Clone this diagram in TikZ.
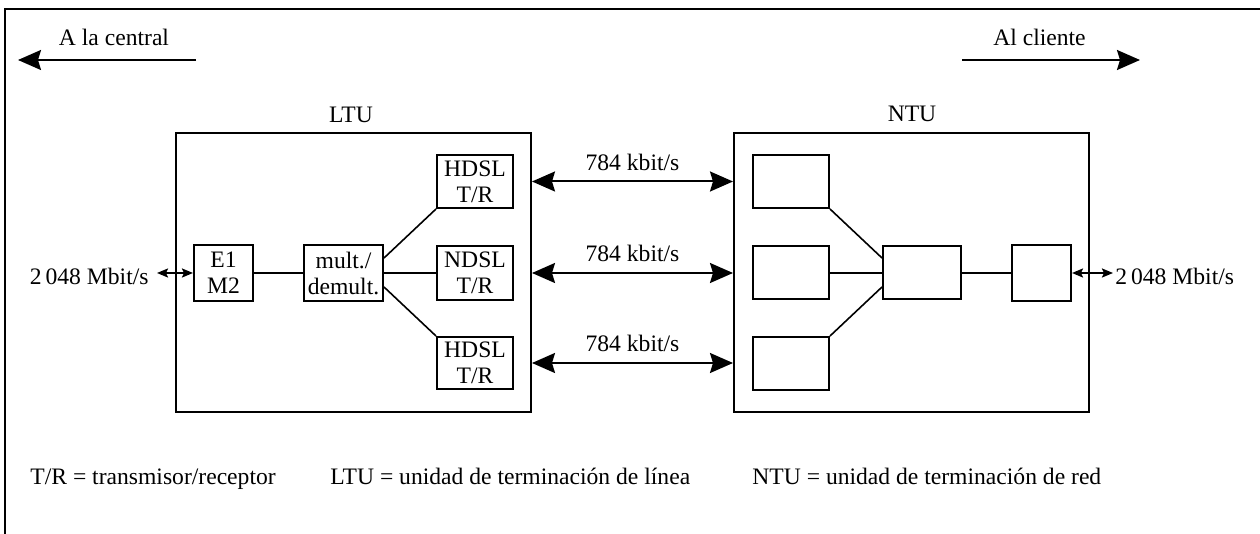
\documentclass[tikz,border=0pt]{standalone}
\usepackage{fontspec}
\setmainfont{Liberation Serif}
\usetikzlibrary{arrows.meta,calc}
\begin{document}
\begin{tikzpicture}[x=0.5pt,y=-0.5pt,
  every node/.style={font=\fontsize{11.8pt}{13pt}\selectfont, inner sep=0pt},
  unit/.style={draw, line width=1pt, minimum width=177.5pt, minimum height=139.5pt},
  blk/.style={draw, line width=1pt, align=center},
  link/.style={line width=1pt},
  diag/.style={line width=0.8pt},
  bigarrow/.style={line width=1pt, {Stealth[length=11.5pt,width=10pt,inset=1.5pt]}-{Stealth[length=11.5pt,width=10pt,inset=1.5pt]}},
  onearrow/.style={line width=1pt, -{Stealth[length=11.5pt,width=10pt,inset=1.5pt]}},
  smallarrow/.style={line width=1pt, {Stealth[length=5.5pt,width=4.5pt,inset=1pt]}-{Stealth[length=5.5pt,width=4.5pt,inset=1pt]}}
]
\useasboundingbox (0,0) rectangle (1260,534);

% frame
\draw[line width=1pt] (5,534) -- (5,9.5) -- (1260,9.5);

% direction arrows
\node (central) at (114,37) {A la central};
\coordinate (cA) at (196,60);
\coordinate (cB) at (18,60);
\draw[onearrow] (cA) -- (cB);
\node (cliente) at (1039.5,37) {Al cliente};
\coordinate (kA) at (962,60);
\coordinate (kB) at (1140,60);
\draw[onearrow] (kA) -- (kB);

% units
\node[unit] (ltu) at (353.5,272.5) {};
\node (ltulbl) at (351,115) {LTU};
\node[unit] (ntu) at (911.5,272.5) {};
\node (ntulbl) at (912,114) {NTU};

% LTU contents
\node[blk, minimum width=29.5pt, minimum height=28pt] (e1) at (223.5,273) {E1\\M2};
\node[blk, minimum width=39.5pt, minimum height=28pt] (mux) at (343.5,273) {mult./\\demult.};
\node[blk, minimum width=38pt, minimum height=26.5pt] (h1) at (475,181.5) {HDSL\\T/R};
\node[blk, minimum width=38pt, minimum height=27pt] (nd) at (475,273) {NDSL\\T/R};
\node[blk, minimum width=38pt, minimum height=26pt] (h2) at (475,363) {HDSL\\T/R};

\draw[link] (e1.east) -- (mux.west);
\draw[link] (mux.east) -- (nd.west);
\draw[diag] ([yshift=7.5pt]mux.east) -- (h1.south west);
\draw[diag] ([yshift=-7pt]mux.east) -- (h2.north west);

% NTU contents
\node[blk, minimum width=38pt, minimum height=26.5pt] (n1) at (791,181.5) {};
\node[blk, minimum width=38pt, minimum height=26.5pt] (n2) at (791,273) {};
\node[blk, minimum width=38pt, minimum height=26.5pt] (n3) at (791,363.5) {};
\node[blk, minimum width=39pt, minimum height=26.5pt] (nc) at (922,273) {};
\node[blk, minimum width=29.5pt, minimum height=28pt] (ns) at (1041.5,273) {};

\draw[diag] (n1.south east) -- ([yshift=7.5pt]nc.west);
\draw[link] (n2.east) -- (nc.west);
\draw[diag] (n3.north east) -- ([yshift=-7pt]nc.west);
\draw[link] (nc.east) -- (ns.west);

% line links between LTU and NTU
\draw[bigarrow] (h1 -| ltu.east) -- (h1 -| ntu.west)
  node[midway, anchor=base, yshift=5.5pt] (r1) {784 kbit/s};
\draw[bigarrow] (nd -| ltu.east) -- (nd -| ntu.west)
  node[midway, anchor=base, yshift=5.5pt] (r2) {784 kbit/s};
\draw[bigarrow] (h2 -| ltu.east) -- (h2 -| ntu.west)
  node[midway, anchor=base, yshift=5.5pt] (r3) {784 kbit/s};

% 2 048 Mbit/s interfaces
\node[anchor=east] (inL) at (149,276) {2\,048 Mbit/s};
\coordinate (inLa) at (157,273);
\draw[smallarrow] (inLa) -- (e1.west);
\coordinate (inRa) at (1113,273);
\draw[smallarrow] (ns.east) -- (inRa);
\node[anchor=west] (inR) at (1115,276) {2\,048 Mbit/s};

% legend
\node[anchor=base west] (lg1) at (30,485) {T/R = transmisor/receptor};
\node[anchor=base west] (lg2) at (330,485) {LTU = unidad de terminación de línea};
\node[anchor=base west] (lg3) at (752,485) {NTU = unidad de terminación de red};
\end{tikzpicture}
\end{document}
